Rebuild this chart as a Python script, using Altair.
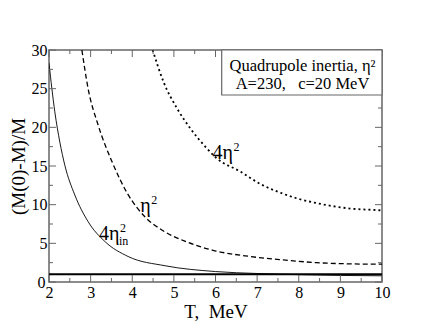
import altair as alt
import pandas as pd

# ---- data ----
T_in = [2.0, 2.14, 2.26, 2.38, 2.62, 2.94, 3.35, 3.9, 4.79, 6.0, 7.0, 8.0, 9.0, 10.0]
Y_in = [28.3, 22.0, 18.1, 15.1, 11.25, 7.8, 5.2, 3.3, 2.1, 1.35, 1.1, 0.95, 0.85, 0.8]

T_eta = [2.79, 2.94, 3.18, 3.51, 3.9, 4.31, 4.75, 5.3, 5.94, 6.83, 7.63, 8.43, 9.2, 10.0]
Y_eta = [30.0, 25.0, 20.3, 15.6, 11.3, 8.4, 6.6, 5.2, 4.1, 3.3, 2.85, 2.5, 2.35, 2.3]

T_4eta = [4.49, 4.75, 5.07, 5.39, 5.79, 6.03, 6.59, 7.07, 7.63, 8.03, 8.43, 8.83, 9.23, 9.87, 10.0]
Y_4eta = [30.0, 25.9, 22.5, 19.9, 17.3, 16.0, 14.3, 12.7, 11.4, 10.7, 10.2, 9.8, 9.5, 9.3, 9.25]

T_ref = [2.0, 10.0]
Y_ref = [1.0, 1.0]

x_major = [2, 3, 4, 5, 6, 7, 8, 9, 10]
x_minor = [2.5, 3.5, 4.5, 5.5, 6.5, 7.5, 8.5, 9.5]
y_major = [0, 5, 10, 15, 20, 25, 30]
y_minor = [2.5, 7.5, 12.5, 17.5, 22.5, 27.5]

# curve labels: main glyphs, superscript and subscript parts
lbl_T = [3.20, 4.19, 5.93]
lbl_y = [5.4, 9.1, 15.9]
lbl_text = ["4η", "η", "4η"]
sup_dx = [21, 11, 21]
sup_text = ["2", "2", "2"]
sub_T = [3.20]
sub_y = [5.4]
sub_text = ["in"]

legend_lines = ["Quadrupole inertia, η²", "A=230,\u00a0\u00a0 c=20 MeV"]

# ---- styling ----
W, H = 333, 232
SERIF = "Liberation Serif"
FRAME = "#666666"

xs = alt.Scale(domain=[2, 10], nice=False, zero=False)
ys = alt.Scale(domain=[0, 30], nice=False, zero=False)

xaxis = alt.Axis(values=x_major, title="T,\u00a0 MeV", ticks=False, domain=False, grid=False,
                 labelFont=SERIF, labelFontSize=16, labelPadding=2, labelColor="black",
                 labelFlush=False, titleFont=SERIF, titleFontSize=19, titleFontWeight="normal",
                 titleColor="black", titlePadding=2)
yaxis = alt.Axis(values=y_major, title="(M(0)-M)/M", ticks=False, domain=False, grid=False,
                 labelFont=SERIF, labelFontSize=16,
                 labelPadding={"condition": {"test": "datum.value === 0", "value": 4}, "value": 2},
                 labelColor="black",
                 labelFlush=False, titleFont=SERIF, titleFontSize=19, titleFontWeight="normal",
                 titleColor="black", titlePadding=3)

X = lambda f="T": alt.X(f"{f}:Q", scale=xs, axis=xaxis)
Y = lambda f="y": alt.Y(f"{f}:Q", scale=ys, axis=yaxis)

one = pd.DataFrame({"a": [0]})

def curve(T, Yv, dash=None, width=1.0):
    kw = dict(color="black", strokeWidth=width, clip=True, interpolate="monotone")
    if dash:
        kw["strokeDash"] = dash
    return alt.Chart(pd.DataFrame({"T": T, "y": Yv})).mark_line(**kw).encode(x=X(), y=Y())

ref_line = alt.Chart(pd.DataFrame({"T": T_ref, "y": Y_ref})).mark_line(
    color="black", strokeWidth=1.8).encode(x=X(), y=Y())

c_in = curve(T_in, Y_in, width=0.9)
c_eta = curve(T_eta, Y_eta, dash=[5, 3], width=1.3)
c_4eta = curve(T_4eta, Y_4eta, dash=[2, 3], width=1.8)

def xticks(vals, length):
    b = alt.Chart(pd.DataFrame({"T": vals})).mark_rule(color=FRAME, strokeWidth=1)
    return (b.encode(x=X(), y=alt.value(H), y2=alt.value(H - length)) +
            b.encode(x=X(), y=alt.value(0), y2=alt.value(length)))

def yticks(vals, length):
    b = alt.Chart(pd.DataFrame({"y": vals})).mark_rule(color=FRAME, strokeWidth=1)
    return (b.encode(y=Y(), x=alt.value(0), x2=alt.value(length)) +
            b.encode(y=Y(), x=alt.value(W), x2=alt.value(W - length)))

lbl_df = pd.DataFrame({"T": lbl_T, "y": lbl_y, "t": lbl_text, "s": sup_text, "dx": sup_dx})
labels = alt.Chart(lbl_df).mark_text(
    align="left", baseline="alphabetic", font=SERIF, fontSize=20, color="black").encode(
    x=X(), y=Y(), text="t:N")

sups = []
for i in range(len(lbl_T)):
    sups.append(alt.Chart(lbl_df.iloc[[i]]).mark_text(
        align="left", baseline="alphabetic", font=SERIF, fontSize=12, color="black",
        dx=int(sup_dx[i]), dy=-8).encode(x=X(), y=Y(), text="s:N"))

sub = alt.Chart(pd.DataFrame({"T": sub_T, "y": sub_y, "t": sub_text})).mark_text(
    align="left", baseline="alphabetic", font=SERIF, fontSize=12, color="black", dx=20, dy=5).encode(
    x=X(), y=Y(), text="t:N")

box = alt.Chart(one).mark_rect(fill="white", stroke=FRAME, strokeWidth=1.2).encode(
    x=alt.value(172.7), x2=alt.value(W), y=alt.value(0), y2=alt.value(45))

leg1 = alt.Chart(one).mark_text(font=SERIF, fontSize=16.5, color="black", align="center",
                                 baseline="alphabetic", text=legend_lines[0]).encode(
    x=alt.value(253.5), y=alt.value(21))
leg2 = alt.Chart(one).mark_text(font=SERIF, fontSize=16.5, color="black", align="center",
                                 baseline="alphabetic", text=legend_lines[1]).encode(
    x=alt.value(253.5), y=alt.value(38.5))

chart = alt.layer(
    ref_line, c_in, c_eta, c_4eta,
    xticks(x_major, 7), xticks(x_minor, 4), yticks(y_major, 7), yticks(y_minor, 4),
    labels, *sups, sub, box, leg1, leg2,
).properties(
    width=W, height=H,
    autosize=alt.AutoSizeParams(type="none"),
    padding={"left": 41, "top": 42, "right": 40, "bottom": 40},
).configure_view(stroke=FRAME, strokeWidth=1.5)

chart.save("out.html", embed_options={"renderer": "svg", "actions": False})
